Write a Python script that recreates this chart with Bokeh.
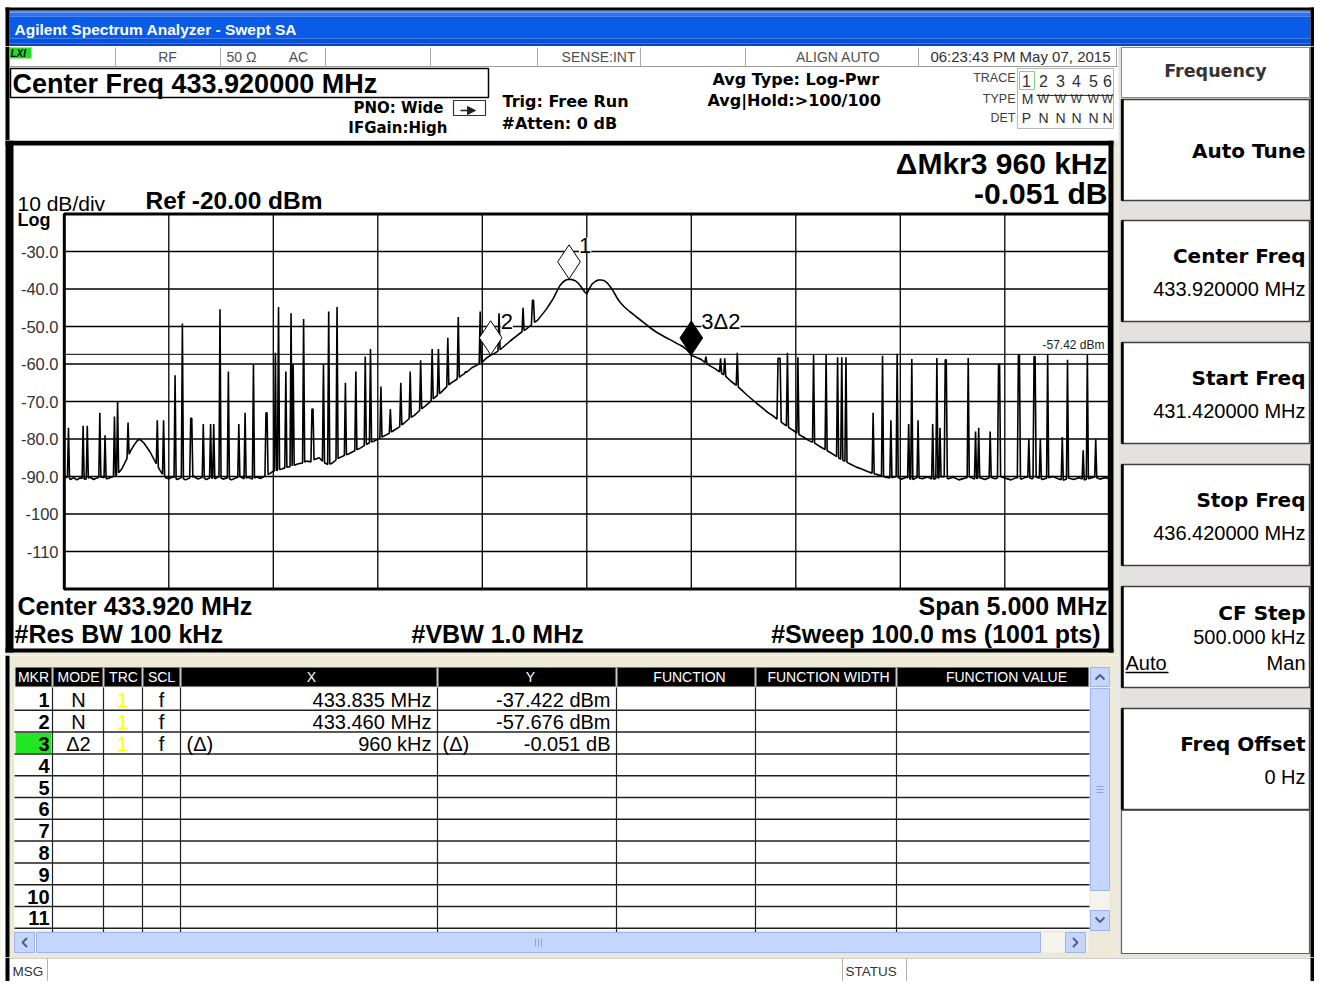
import numpy as np
from bokeh.plotting import figure
from bokeh.layouts import column, row
from bokeh.models import Range1d, Label
from bokeh.core.properties import value
from bokeh.embed import file_html
from bokeh.resources import INLINE

# ---------------- instrument settings ----------------
start_mhz = 431.42
stop_mhz = 436.42
n_pts = 1001
ref_dbm = -20.0
db_per_div = 10.0
n_div = 10

# trace envelope (noise floor + carrier): sweep point index, level dBm
floor_pt = [0, 3, 6, 9, 12, 15, 20, 25, 28, 31, 36, 41, 45, 49,
            52, 55, 58, 61, 64, 67, 70, 72, 74, 76, 79, 82, 85, 88, 91, 94, 97,
            100, 104, 108, 112, 116, 120, 124, 128, 132, 136, 140, 144, 148, 152,
            156, 160, 164, 168, 172, 176, 180, 184, 188, 192, 196,
            200, 204, 208, 212, 216, 220, 224, 228, 232, 236, 240, 244, 248, 252,
            256, 260, 264, 268, 272, 276, 280, 284, 288, 292, 296, 300, 304, 308,
            312, 316, 320, 325, 330, 335, 340, 345, 350, 355, 360, 365, 370, 375,
            380, 385, 390, 395, 400, 404, 408, 412, 417, 422, 427, 432, 437, 442,
            446, 450, 453, 457, 461, 465, 468, 471, 474, 477, 480, 483, 486, 489,
            492, 495, 498, 500, 502, 505, 508, 511, 514, 517, 520, 523, 526, 529,
            532, 536, 541, 546, 551, 556, 561, 566, 571, 576, 581, 586, 591, 595,
            598, 600, 603, 606, 609, 613, 618, 623, 628, 633, 638, 643, 648, 653,
            658, 663, 668, 673, 678, 683, 688, 693, 698, 703, 708, 713, 718, 723,
            728, 733, 738, 743, 748, 753, 758, 763, 768, 773, 778, 783, 786,
            791, 796, 801, 806, 811, 816, 821, 826, 831, 836, 841, 846, 851, 856,
            861, 866, 871, 876, 881, 886, 891, 896, 901, 906, 911, 916, 921, 926,
            931, 936, 941, 946, 951, 956, 961, 966, 971, 976, 981, 986, 991, 996, 1000]
floor_dbm = [-90.5, -90.1, -90.8, -90.3, -90.9, -90.4, -90.7, -90.2, -90.8, -90.4, -90.1, -90.6, -90.2, -89.8,
             -89.0, -88.0, -86.3, -84.6, -82.9, -81.5, -80.4, -80.1, -80.5, -81.0, -82.2, -83.4, -85.0, -86.6, -88.1, -89.4, -90.3,
             -90.6, -90.1, -90.8, -90.3, -90.9, -90.4, -90.0, -90.7, -90.2, -90.8, -90.3, -90.6, -90.1, -90.7,
             -90.3, -90.9, -90.4, -90.0, -90.6, -90.2, -90.7, -90.1, -90.5, -89.9, -89.3,
             -88.6, -88.3, -88.0, -87.6, -87.4, -87.0, -86.6, -86.4, -85.9, -86.1, -85.4, -85.0, -86.2, -86.8,
             -86.5, -85.6, -84.9, -84.4, -84.0, -83.4, -82.9, -82.3, -81.6, -81.0, -80.6, -80.1, -79.5, -78.9,
             -78.3, -77.6, -76.9, -75.8, -74.6, -73.7, -72.4, -71.3, -70.1, -68.8, -67.7, -66.3, -65.1, -64.2,
             -63.1, -62.2, -61.0, -60.3, -59.5, -58.4, -57.7, -57.1, -56.2, -55.0, -53.8, -52.7, -51.6, -50.7,
             -49.8, -48.9, -48.3, -46.9, -45.5, -43.8, -42.5, -40.8, -39.2, -38.2, -37.6, -37.42, -37.5, -37.8,
             -38.5, -39.6, -40.8, -41.3, -40.1, -38.7, -38.0, -37.6, -37.6, -37.8, -38.5, -39.6, -40.9, -42.4,
             -43.6, -44.8, -46.0, -47.1, -48.2, -49.3, -50.4, -51.4, -52.2, -53.0, -53.7, -54.5, -55.2, -56.0,
             -56.9, -57.73, -58.0, -58.4, -58.7, -59.6, -60.5, -61.3, -62.3, -63.3, -64.6, -65.7, -66.9, -68.2,
             -69.4, -70.6, -71.7, -72.9, -73.8, -74.9, -75.9, -76.9, -77.8, -78.8, -79.6, -80.5, -81.1, -82.0,
             -82.8, -83.6, -84.5, -85.4, -86.1, -86.8, -87.5, -88.0, -88.6, -89.1, -89.5, -89.9, -90.2,
             -90.4, -90.0, -90.7, -90.2, -90.9, -90.3, -90.6, -90.1, -90.8, -90.4, -90.0, -90.6, -90.2, -90.9,
             -90.5, -90.1, -90.7, -90.3, -90.8, -90.2, -90.6, -90.0, -90.5, -90.9, -90.3, -90.7, -90.1, -90.6,
             -90.2, -90.8, -90.4, -90.0, -90.6, -91.0, -90.4, -90.8, -90.3, -90.9, -90.5, -90.1, -90.7, -90.3, -90.6]

# narrowband spurs: sweep point index, peak level dBm
spur_pt = [4, 18, 22, 34, 39, 48, 51, 61, 89, 95, 106, 113, 121, 122, 133, 140, 143, 149, 157,
           167, 173, 181, 193, 194, 202, 205, 212, 217, 219, 229, 237, 238, 248, 253, 261, 269,
           279, 288, 293, 303, 312, 322, 331, 341, 352, 358, 367, 377, 384, 398, 416, 439, 448, 449,
           614, 628, 632, 644, 683, 684, 685, 692, 702, 717, 729, 740, 744, 748, 774, 783, 791,
           797, 808, 811, 817, 831, 835, 838, 843, 844, 865, 872, 875, 886, 894, 895, 913, 914,
           923, 928, 929, 934, 941, 955, 960, 975, 979, 987]
spur_dbm = [-77, -76.5, -76.5, -73, -79, -74, -70, -75.6, -75, -75, -63, -49.2, -74.5, -74.5, -76, -76, -76, -45.4, -62,
            -76, -73, -60, -73, -73, -57, -44.8, -62, -46.5, -60, -48, -72, -72, -60, -46, -44.8, -65,
            -62, -58, -56, -66, -72, -65, -62, -59, -56, -56, -53, -47.5, -62, -46, -46.5, -45, -43, -43,
            -58, -58.5, -58.5, -57, -58.5, -58.5, -58.5, -57, -58.2, -57.6, -57.6, -58.2, -58.2, -58.2, -73, -57.8, -75,
            -57.3, -76, -58.7, -75, -76, -58.4, -77, -58.9, -58.9, -58.4, -78, -77, -78, -60, -60, -57.6, -57.6,
            -80, -58, -58, -80, -57.6, -79.5, -58.9, -83, -57.6, -80]

mkr_mhz = [433.835, 433.460, 434.420]
mkr_dbm = [-37.422, -57.676, -57.727]
mkr_text = ["1", "2", "3\u03942"]
display_line_dbm = -57.42

y_tick_dbm = [-30, -40, -50, -60, -70, -80, -90, -100, -110]
y_tick_labels = ["-30.0", "-40.0", "-50.0", "-60.0", "-70.0", "-80.0", "-90.0", "-100", "-110"]

tbl_headers = ["MKR", "MODE", "TRC", "SCL", "X", "Y", "FUNCTION", "FUNCTION WIDTH", "FUNCTION VALUE"]
tbl_mkr = [str(i) for i in range(1, 12)]
tbl_mode = ["N", "N", "\u03942"]
tbl_trc = ["1", "1", "1"]
tbl_scl = ["f", "f", "f"]
tbl_x = ["433.835 MHz", "433.460 MHz", "960 kHz"]
tbl_y = ["-37.422 dBm", "-57.676 dBm", "-0.051 dB"]

soft_titles = ["Auto Tune", "Center Freq", "Start Freq", "Stop Freq", "CF Step", "Freq Offset"]
soft_values = ["", "433.920000 MHz", "431.420000 MHz", "436.420000 MHz", "500.000 kHz", "0 Hz"]

# ---------------- helpers ----------------
SANS = "Liberation Sans"
TAHO = "DejaVu Sans"
XPBG = "#ECE9D8"


def mk(w, h, bg):
    p = figure(width=w, height=h, x_range=Range1d(0, w), y_range=Range1d(h, 0),
               x_axis_location=None, y_axis_location=None, toolbar_location=None,
               output_backend="svg", min_border=0)
    p.grid.visible = False
    p.outline_line_color = None
    p.background_fill_color = bg
    p.border_fill_color = bg
    return p


def box(p, l, t, r, b, fill=None, line=None, lw=1.0, **kw):
    p.quad(left=[l], right=[r], top=[t], bottom=[b], fill_color=fill,
           line_color=line, line_width=lw, **kw)


def seg(p, x0, y0, x1, y1, color="black", lw=1.0, **kw):
    p.segment(x0=[x0], y0=[y0], x1=[x1], y1=[y1], line_color=color, line_width=lw, **kw)


def txt(p, x, y, s, size, color="black", align="left", style="normal", font=SANS, **kw):
    p.text(x=[x], y=[y], text=[s], text_font=value(font), text_font_size=f"{size}px",
           text_color=color, text_align=align, text_baseline="middle",
           text_font_style=style, **kw)


W_ALL, W_LEFT = 1314, 1118
W_SOFT = W_ALL - W_LEFT
RB = 4  # right window frame width

# ---------------- title bar ----------------
tf = mk(W_ALL, 46, "white")
bands_top = [10, 12, 16, 38, 43]
bands_bot = [12, 16, 38, 43, 46]
bands_col = ["#4A92FA", "#2A74F2", "#0A5BE6", "#0652DA", "#0846C4"]
tf.quad(left=9, right=W_ALL - RB, top=bands_top, bottom=bands_bot, fill_color=bands_col, line_color=None)
box(tf, 5, 7, W_ALL, 10, fill="black")
box(tf, 5, 7, 9, 46, fill="black")
box(tf, W_ALL - RB, 7, W_ALL, 46, fill="black")
txt(tf, 14, 29, "Agilent Spectrum Analyzer - Swept SA", 15.5, color="white", style="bold")

# ---------------- header (status line + settings) ----------------
hf = mk(W_LEFT, 94, "white")
box(hf, 5, 0, 9, 94, fill="black")
seg(hf, 9, 20, W_LEFT, 20, color="#9A9A9A", lw=1)
for sx in [115, 220, 325, 430, 537, 640, 745, 918, 1116]:
    seg(hf, sx, 1, sx, 20, color="#A8A8A8", lw=1)
box(hf, 9, 1, 31, 12, fill="#22DD22")
txt(hf, 10, 6.5, "LXI", 10, style="bold italic")
GRAY = "#505050"
txt(hf, 167, 10, "RF", 14, color=GRAY, align="center")
txt(hf, 241, 10, "50 \u03a9", 14, color=GRAY, align="center")
txt(hf, 298, 10, "AC", 14, color=GRAY, align="center")
txt(hf, 635, 10, "SENSE:INT", 14, color=GRAY, align="right")
txt(hf, 880, 10, "ALIGN AUTO", 14, color=GRAY, align="right")
txt(hf, 1110, 10, "06:23:43 PM May 07, 2015", 15, color="#303030", align="right")

box(hf, 10, 22, 488, 51, fill="white", line="black", lw=1.5)
txt(hf, 12, 37.5, "Center Freq 433.920000 MHz", 27, style="bold")
txt(hf, 443, 61, "PNO: Wide", 15, style="bold", font=TAHO, align="right")
txt(hf, 447, 81, "IFGain:High", 15, style="bold", font=TAHO, align="right")
box(hf, 453, 54, 485, 69, fill="white", line="#333333", lw=1.2)
hf.patch(x=[467, 475, 467], y=[60, 64, 68], fill_color="#222222", line_color="#222222")
seg(hf, 460, 64, 468, 64, color="#222222", lw=1.5)
txt(hf, 502, 55, "Trig: Free Run", 16, style="bold", font=TAHO)
txt(hf, 501, 77, "#Atten: 0 dB", 16, style="bold", font=TAHO)
txt(hf, 712, 33, "Avg Type: Log-Pwr", 16, style="bold", font=TAHO)
txt(hf, 707, 54, "Avg|Hold:>100/100", 16, style="bold", font=TAHO)

txt(hf, 1015, 31.5, "TRACE", 12.5, color="#404040", align="right")
txt(hf, 1015, 52, "TYPE", 12.5, color="#404040", align="right")
txt(hf, 1015, 71.5, "DET", 12.5, color="#404040", align="right")
box(hf, 1017, 22, 1113, 82, fill=None, line="#B8B8B8", lw=1)
box(hf, 1019, 25, 1034, 43, fill=None, line="#7CD87C", lw=1)
trace_cols = [1026, 1043, 1060, 1076, 1093, 1107]
for i, cx in enumerate(trace_cols):
    txt(hf, cx, 34, str(i + 1), 16, color="#303030", align="center")
txt(hf, 1027, 52, "M", 14, color="#303030", align="center")
for cx in trace_cols[1:]:
    txt(hf, cx, 52.5, "W", 12, color="#303030", align="center")
seg(hf, 1036, 49, 1112, 49, color="#303030", lw=1)
txt(hf, 1026, 71.5, "P", 14, color="#303030", align="center")
for cx in trace_cols[1:]:
    txt(hf, cx, 71.5, "N", 14, color="#303030", align="center")

# ---------------- spectrum display ----------------
W_SP, H_SP = W_LEFT, 515
GX0, GY0 = 63.8, 73.5           # screen position of the graticule top-left
GW, GH = 1045.0, 375.0          # graticule size in pixels
span = stop_mhz - start_mhz
mhz_px = span / GW
db_px = db_per_div * n_div / GH
bottom_dbm = ref_dbm - db_per_div * n_div

sp = figure(width=W_SP, height=H_SP,
            x_range=Range1d(start_mhz - GX0 * mhz_px, start_mhz + (W_SP - GX0) * mhz_px),
            y_range=Range1d(ref_dbm - (H_SP - GY0) * db_px, ref_dbm + GY0 * db_px),
            x_axis_location=None, y_axis_location=None, toolbar_location=None,
            output_backend="svg", min_border=0)
sp.grid.visible = False
sp.outline_line_color = None
sp.background_fill_color = "white"
sp.border_fill_color = "white"
sp.extra_x_ranges = {"px": Range1d(0, W_SP)}
sp.extra_y_ranges = {"px": Range1d(H_SP, 0)}
PX = dict(x_range_name="px", y_range_name="px")

# surrounding chrome
box(sp, 1113, 0, W_SP, H_SP, fill=XPBG, **PX)
box(sp, 5, H_SP - 3, W_SP, H_SP, fill=XPBG, **PX)

# graticule
vx = [start_mhz + k * span / n_div for k in range(1, n_div)]
sp.segment(x0=vx, y0=bottom_dbm, x1=vx, y1=ref_dbm, line_color="black", line_width=1.3)
hy = [ref_dbm - k * db_per_div for k in range(1, n_div)]
sp.segment(x0=start_mhz, y0=hy, x1=stop_mhz, y1=hy, line_color="black", line_width=1.3)
sp.segment(x0=[start_mhz], y0=[display_line_dbm], x1=[stop_mhz], y1=[display_line_dbm],
           line_color="black", line_width=1)

# trace
fpt = np.array(floor_pt, dtype=float)
fdb = np.array(floor_dbm, dtype=float)
pts = dict(zip(floor_pt, floor_dbm))
spur_set = set(spur_pt)
for s in spur_pt:
    for nb in (s - 1, s + 1):
        if nb not in spur_set and nb not in pts:
            pts[nb] = float(np.interp(nb, fpt, fdb))
for s, v in zip(spur_pt, spur_dbm):
    pts[s] = v
idx = np.array(sorted(pts))
trace_mhz = start_mhz + idx * span / (n_pts - 1)
trace_dbm = np.array([pts[i] for i in idx])
sp.line(x=trace_mhz, y=trace_dbm, line_color="black", line_width=1.6)

# markers
dia_off = 17.5 * db_px
sp.scatter(x=mkr_mhz[:2], y=[v + dia_off for v in mkr_dbm[:2]], marker="diamond", size=34,
           fill_color="white", line_color="black", line_width=1)
sp.scatter(x=mkr_mhz[2:], y=[v + dia_off for v in mkr_dbm[2:]], marker="diamond", size=34,
           fill_color="black", line_color="black", line_width=1)
for f, v, t in zip(mkr_mhz, mkr_dbm, mkr_text):
    sp.add_layout(Label(x=f + 10 * mhz_px, y=v + 34 * db_px, text=t, text_font=SANS,
                        text_font_size="22px", text_baseline="middle",
                        background_fill_color="white", text_color="black"))

# frame
sp.quad(left=[start_mhz], right=[stop_mhz], top=[ref_dbm], bottom=[bottom_dbm],
        fill_color=None, line_color="black", line_width=3)

# y labels
sp.text(x=[58] * len(y_tick_dbm), y=y_tick_dbm, text=y_tick_labels, x_range_name="px",
        text_font=value(SANS), text_font_size="16.5px", text_color="#333333",
        text_align="right", text_baseline="middle")

# annotations
txt(sp, 17, 63, "10 dB/div", 21, **PX)
txt(sp, 145, 60, "Ref -20.00 dBm", 24.5, style="bold", **PX)
txt(sp, 17, 79.5, "Log", 18, style="bold", **PX)
txt(sp, 1107, 23, "\u0394Mkr3 960 kHz", 30, style="bold", align="right", **PX)
txt(sp, 1107, 53, "-0.051 dB", 30, style="bold", align="right", **PX)
txt(sp, 1104, 204, "-57.42 dBm", 12, color="#222222", align="right", **PX)
txt(sp, 17, 465, "Center 433.920 MHz", 25, style="bold", **PX)
txt(sp, 14, 493, "#Res BW 100 kHz", 25, style="bold", **PX)
txt(sp, 411, 493, "#VBW 1.0 MHz", 25, style="bold", **PX)
txt(sp, 1107, 465, "Span 5.000 MHz", 25, style="bold", align="right", **PX)
txt(sp, 1107, 493, "#Sweep  100.0 ms (1001 pts)", 25, style="bold", align="right", **PX)

# thick display border
box(sp, 5, 0, 13, 512, fill="black", **PX)
box(sp, 5, 0, 1113, 5, fill="black", **PX)
box(sp, 1108, 0, 1113, 512, fill="black", **PX)
box(sp, 5, 508, 1113, 512, fill="black", **PX)

# ---------------- marker table ----------------
tb = mk(W_LEFT, 302, XPBG)
box(tb, 0, 0, 5, 302, fill="white")
box(tb, 5, 0, 9, 302, fill="black")
col_edges = [14, 52, 103, 142, 180, 437, 616, 755, 896, 1088]
hdr_cx = [33, 78, 123, 161, 311, 530, 689, 828, 1006]
box(tb, 15, 12, 1088, 31, fill="black")
for e in col_edges[1:-1]:
    seg(tb, e, 12, e, 31, color="#C8C8C8", lw=2)
for cx, h in zip(hdr_cx, tbl_headers):
    txt(tb, cx, 21.5, h, 14, color="white", align="center")
box(tb, 14, 32, 1089, 275, fill="white")
ROW0, PITCH = 33.0, 21.8
for k in range(1, 12):
    seg(tb, 14, ROW0 + k * PITCH, 1089, ROW0 + k * PITCH, color="#202020", lw=1.5)
for e in col_edges[1:-1]:
    seg(tb, e, 32, e, 277, color="#202020", lw=1.2)
box(tb, 15, ROW0 + 2 * PITCH + 1, 51, ROW0 + 3 * PITCH - 1, fill="#22E622")
for k, m in enumerate(tbl_mkr):
    txt(tb, 49, ROW0 + (k + 0.5) * PITCH + 1, m, 20, style="bold", align="right")
for k in range(len(tbl_mode)):
    cy = ROW0 + (k + 0.5) * PITCH + 1
    txt(tb, 78, cy, tbl_mode[k], 20, align="center")
    txt(tb, 122, cy, tbl_trc[k], 20, color="#FFFF00", align="center")
    txt(tb, 161, cy, tbl_scl[k], 20, align="center")
    txt(tb, 431, cy, tbl_x[k], 20, align="right")
    txt(tb, 610, cy, tbl_y[k], 20, align="right")
cy3 = ROW0 + 2.5 * PITCH + 1
txt(tb, 186, cy3, "(\u0394)", 20)
txt(tb, 442, cy3, "(\u0394)", 20)

# scrollbars
SB_FILL, SB_LINE, ARW = "#C6D5FC", "#9DB5EE", "#4D6185"
box(tb, 1090, 12, 1109, 275, fill="#F4F3EE")
box(tb, 1090, 12, 1109, 31, fill=SB_FILL, line=SB_LINE)
box(tb, 1090, 33, 1109, 235, fill=SB_FILL, line=SB_LINE)
box(tb, 1090, 255, 1109, 275, fill=SB_FILL, line=SB_LINE)
tb.multi_line(xs=[[1095, 1099.5, 1104], [1095, 1099.5, 1104]], ys=[[24, 19.5, 24], [262, 266.5, 262]],
              line_color=ARW, line_width=2)
tb.segment(x0=[1096, 1096, 1096], y0=[131, 134, 137], x1=[1103, 1103, 1103], y1=[131, 134, 137],
           line_color="#8FA5DA", line_width=1)
box(tb, 14, 277, 1088, 297, fill="#F4F3EE")
box(tb, 14, 277, 34, 297, fill=SB_FILL, line=SB_LINE)
box(tb, 36, 277, 1040, 297, fill=SB_FILL, line=SB_LINE)
box(tb, 1065, 277, 1085, 297, fill=SB_FILL, line=SB_LINE)
tb.multi_line(xs=[[26.5, 22, 26.5], [1072.5, 1077, 1072.5]], ys=[[282.5, 287, 291.5], [282.5, 287, 291.5]],
              line_color=ARW, line_width=2)
tb.segment(x0=[535, 538, 541], y0=283, x1=[535, 538, 541], y1=291, line_color="#8FA5DA", line_width=1)

# ---------------- soft keys ----------------
sk = mk(W_SOFT, 911, "#E3E2DE")
BR = W_SOFT - RB - 1     # button right edge
TR = BR - 4              # text right edge
box(sk, 3, 1, BR, 51, fill="white", line="#8A8A8A", lw=1)
txt(sk, (3 + BR) / 2, 24, "Frequency", 17.5, color="#333333", style="bold", font=TAHO, align="center")
btn_top = [53, 174, 296, 418, 540, 662]
BTN_H = 101
for t, title, val in zip(btn_top, soft_titles, soft_values):
    box(sk, 3, t, BR, t + BTN_H, fill="white", line="#404040", lw=1.5)
    seg(sk, 4, t, 4, t + BTN_H, color="black", lw=2.5)
    if val == "":
        txt(sk, TR, t + 51, title, 20, style="bold", font=TAHO, align="right")
    elif title == "CF Step":
        txt(sk, TR, t + 26, title, 20, style="bold", font=TAHO, align="right")
        txt(sk, TR, t + 50, val, 20, align="right")
        txt(sk, 7, t + 76, "Auto", 20)
        seg(sk, 7, t + 86, 50, t + 86, color="black", lw=1.5)
        txt(sk, TR, t + 76, "Man", 20, align="right")
    else:
        txt(sk, TR, t + 35, title, 20, style="bold", font=TAHO, align="right")
        txt(sk, TR, t + 68, val, 20, align="right")
box(sk, 3, 764, BR, 907, fill="white", line="#606060", lw=1.2)
box(sk, W_SOFT - RB, 0, W_SOFT, 911, fill="black")

# ---------------- message line ----------------
H_MSG = 24
mf = mk(W_ALL, H_MSG, "white")
seg(mf, 9, 0.5, W_ALL, 0.5, color="#A0A0A0", lw=1)
box(mf, 5, 0, 9, H_MSG, fill="black")
box(mf, W_ALL - RB, 0, W_ALL, H_MSG, fill="black")
for sx in [47, 842, 906]:
    seg(mf, sx, 1, sx, H_MSG, color="#B0B0B0", lw=1)
txt(mf, 12, 14, "MSG", 13.5, color="#333333")
txt(mf, 845, 14, "STATUS", 13.5, color="#333333")

layout = column(tf, row(column(hf, sp, tb), sk), mf)
open("out.html", "w").write(file_html(layout, INLINE))
